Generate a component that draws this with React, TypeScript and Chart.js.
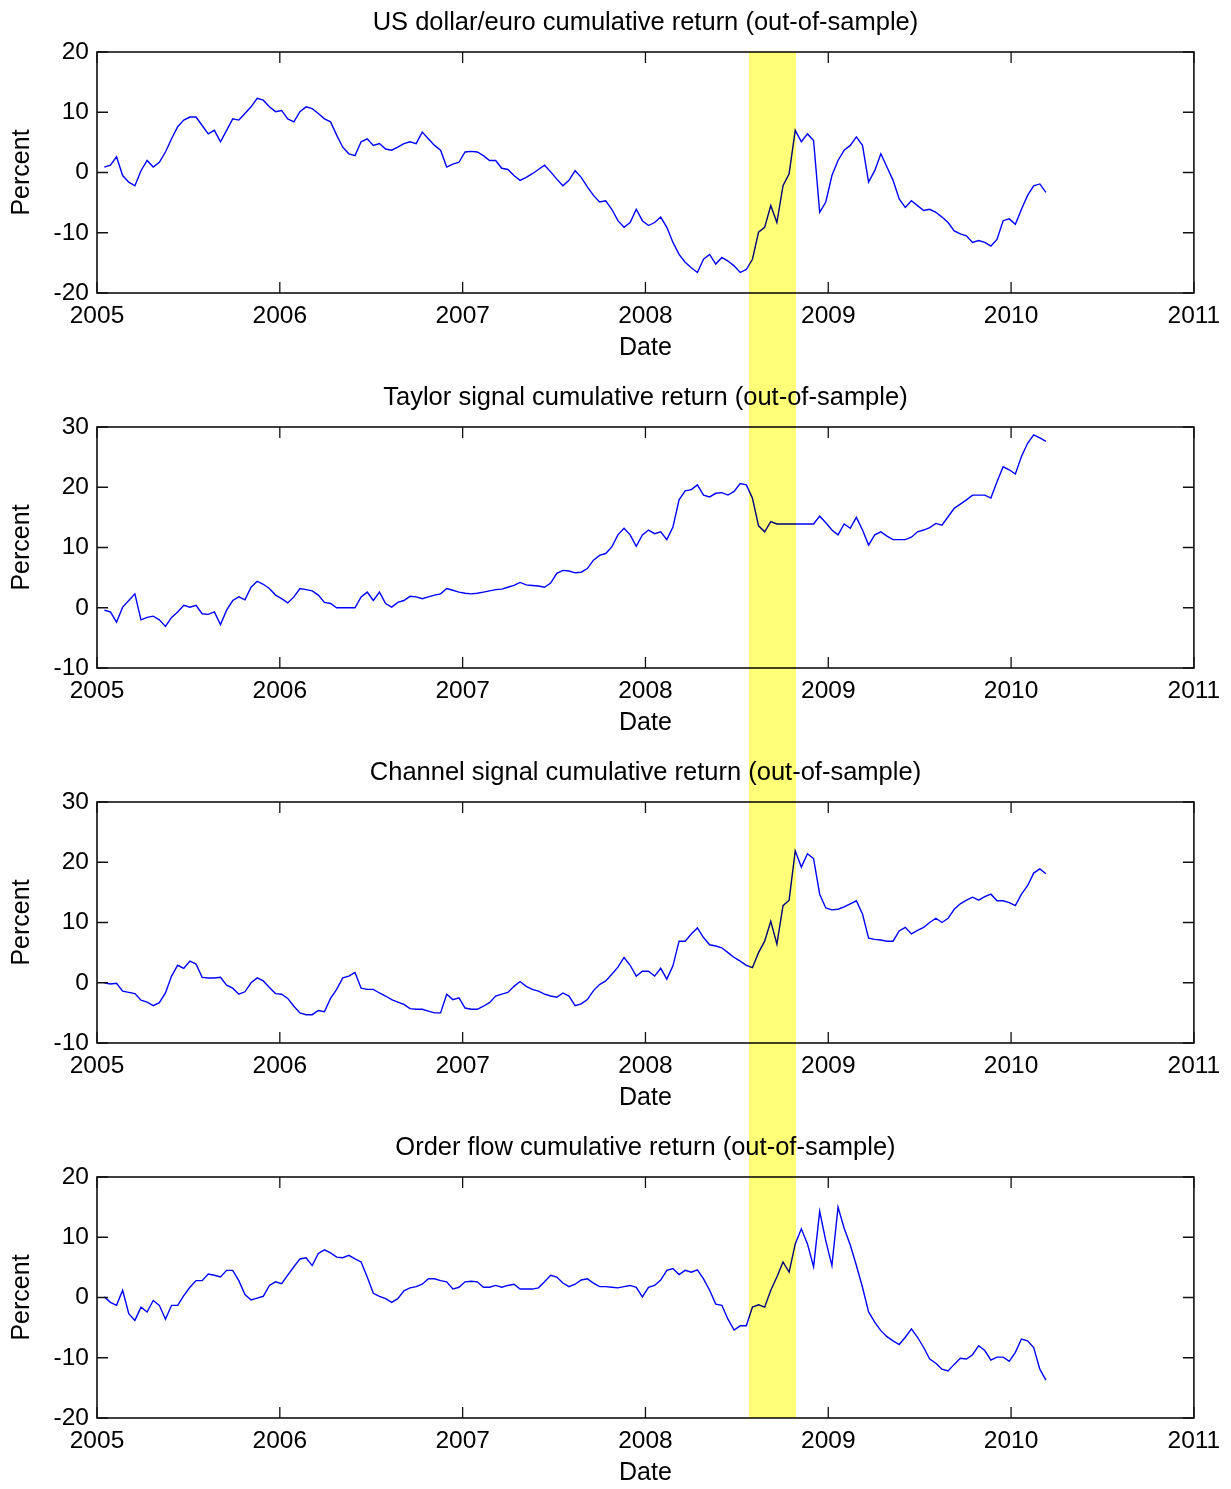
import React, { useEffect, useRef } from "react";
import { Chart, registerables } from "chart.js";

Chart.register(...registerables);

// ---------------- data ----------------
// Observations are sampled every ~12 days starting early January 2005.
const SAMPLE_START = 2005.04;
const SAMPLE_STEP = 0.033445;

const X_TICKS = [2005, 2006, 2007, 2008, 2009, 2010, 2011];
const SHADE_START = 2008.568;
const SHADE_END = 2008.825;

const TITLES = [
  "US dollar/euro cumulative return (out-of-sample)",
  "Taylor signal cumulative return (out-of-sample)",
  "Channel signal cumulative return (out-of-sample)",
  "Order flow cumulative return (out-of-sample)",
];
const X_LABEL = "Date";
const Y_LABEL = "Percent";

const Y_TICKS_USD = [-20, -10, 0, 10, 20];
const Y_TICKS_TAYLOR = [-10, 0, 10, 20, 30];
const Y_TICKS_CHANNEL = [-10, 0, 10, 20, 30];
const Y_TICKS_ORDER = [-20, -10, 0, 10, 20];

const USD_EUR = [
  0.9, 1.2, 2.6, -0.5, -1.6, -2.2, 0.3, 2.0, 0.9, 1.7,
  3.4, 5.6, 7.6, 8.7, 9.2, 9.2, 7.8, 6.4, 7.0, 5.1,
  7.0, 8.9, 8.7, 9.8, 10.9, 12.3, 12.0, 10.9, 10.1, 10.3,
  8.9, 8.4, 10.1, 10.9, 10.6, 9.8, 8.9, 8.4, 6.2, 4.2,
  3.1, 2.8, 5.1, 5.6, 4.5, 4.8, 3.9, 3.7, 4.2, 4.8,
  5.1, 4.8, 6.7, 5.6, 4.5, 3.7, 0.9, 1.4, 1.7, 3.4,
  3.5, 3.4, 2.8, 2.0, 2.0, 0.7, 0.5, -0.5, -1.3, -0.8,
  -0.2, 0.5, 1.2, 0.1, -1.1, -2.2, -1.3, 0.3, -0.8, -2.4,
  -3.8, -4.9, -4.7, -6.1, -8.0, -9.1, -8.3, -6.1, -8.0, -8.8,
  -8.3, -7.4, -9.1, -11.6, -13.6, -14.9, -15.8, -16.6, -14.4, -13.6,
  -15.2, -14.1, -14.7, -15.5, -16.6, -16.1, -14.4, -9.9, -9.1, -5.5,
  -8.3, -2.2, -0.2, 7.0, 5.1, 6.4, 5.3, -6.6, -4.9, -0.5,
  2.0, 3.7, 4.5, 5.9, 4.5, -1.6, 0.3, 3.1, 0.9, -1.3,
  -4.4, -5.8, -4.7, -5.5, -6.3, -6.1, -6.6, -7.4, -8.3, -9.7,
  -10.2, -10.5, -11.6, -11.3, -11.6, -12.2, -11.1, -8.0, -7.7, -8.6,
  -6.1, -3.8, -2.2, -1.9, -3.3,
];

const TAYLOR = [
  -0.4, -0.7, -2.4, 0.1, 1.2, 2.3, -2.0, -1.6, -1.4, -2.0,
  -3.1, -1.6, -0.7, 0.4, 0.1, 0.4, -1.0, -1.1, -0.7, -2.8,
  -0.4, 1.2, 1.8, 1.3, 3.4, 4.4, 3.9, 3.2, 2.1, 1.5,
  0.8, 1.8, 3.2, 3.0, 2.8, 2.1, 0.9, 0.7, 0.0, 0.0,
  0.0, 0.0, 1.8, 2.6, 1.2, 2.6, 0.7, 0.1, 0.9, 1.2,
  1.9, 1.8, 1.5, 1.8, 2.1, 2.3, 3.2, 2.9, 2.6, 2.4,
  2.3, 2.4, 2.6, 2.8, 3.0, 3.1, 3.4, 3.7, 4.2, 3.8,
  3.7, 3.6, 3.4, 4.1, 5.7, 6.2, 6.1, 5.8, 5.9, 6.5,
  7.9, 8.7, 9.0, 10.1, 12.1, 13.2, 12.1, 10.2, 12.1, 12.9,
  12.3, 12.6, 11.3, 13.4, 17.9, 19.4, 19.6, 20.4, 18.7, 18.4,
  19.0, 19.1, 18.7, 19.3, 20.6, 20.4, 18.2, 13.6, 12.6, 14.3,
  13.9, 13.9, 13.9, 13.9, 13.9, 13.9, 13.9, 15.2, 14.1, 12.9,
  12.1, 13.9, 13.2, 15.0, 12.9, 10.4, 12.1, 12.6, 11.9, 11.3,
  11.3, 11.3, 11.7, 12.6, 12.9, 13.3, 14.0, 13.7, 15.1, 16.5,
  17.2, 17.9, 18.7, 18.7, 18.7, 18.2, 20.9, 23.4, 22.9, 22.2,
  25.1, 27.3, 28.7, 28.2, 27.6,
];

const CHANNEL = [
  0.0, -0.2, -0.1, -1.4, -1.6, -1.8, -2.9, -3.2, -3.8, -3.3,
  -1.7, 1.1, 2.9, 2.4, 3.6, 3.1, 0.9, 0.8, 0.8, 0.9,
  -0.4, -0.9, -1.9, -1.5, 0.0, 0.8, 0.3, -0.8, -1.8, -1.9,
  -2.6, -3.9, -5.0, -5.3, -5.3, -4.6, -4.8, -2.6, -1.1, 0.8,
  1.1, 1.7, -0.9, -1.1, -1.1, -1.7, -2.2, -2.8, -3.2, -3.6,
  -4.3, -4.4, -4.4, -4.7, -5.0, -5.0, -1.9, -2.8, -2.5, -4.2,
  -4.4, -4.4, -3.9, -3.3, -2.2, -1.9, -1.6, -0.6, 0.2, -0.6,
  -1.1, -1.4, -1.9, -2.2, -2.4, -1.7, -2.2, -3.8, -3.5, -2.8,
  -1.3, -0.3, 0.3, 1.4, 2.6, 4.2, 2.9, 1.1, 1.9, 1.9,
  1.1, 2.4, 0.6, 2.8, 6.9, 6.9, 8.1, 9.1, 7.5, 6.3,
  6.1, 5.8, 5.0, 4.2, 3.6, 2.9, 2.5, 5.0, 6.9, 10.2,
  6.4, 12.8, 13.7, 21.9, 19.2, 21.4, 20.6, 14.7, 12.4, 12.1,
  12.2, 12.6, 13.1, 13.6, 11.4, 7.4, 7.2, 7.1, 6.9, 6.9,
  8.6, 9.2, 8.1, 8.7, 9.2, 10.0, 10.7, 10.0, 10.7, 12.2,
  13.1, 13.7, 14.2, 13.7, 14.3, 14.7, 13.6, 13.6, 13.3, 12.8,
  14.7, 16.1, 18.2, 18.9, 18.1,
];

const ORDER_FLOW = [
  0.1, -0.8, -1.3, 1.2, -2.7, -3.8, -1.6, -2.4, -0.5, -1.3,
  -3.6, -1.3, -1.3, 0.3, 1.7, 2.8, 2.8, 3.9, 3.7, 3.4,
  4.5, 4.5, 2.8, 0.5, -0.4, -0.1, 0.2, 2.0, 2.6, 2.3,
  3.7, 5.1, 6.4, 6.6, 5.3, 7.3, 7.9, 7.4, 6.7, 6.6,
  7.0, 6.4, 5.9, 3.4, 0.7, 0.2, -0.2, -0.8, -0.2, 1.1,
  1.6, 1.8, 2.2, 3.1, 3.1, 2.8, 2.6, 1.4, 1.7, 2.6,
  2.7, 2.6, 1.7, 1.7, 2.0, 1.7, 2.0, 2.2, 1.4, 1.4,
  1.4, 1.6, 2.6, 3.7, 3.4, 2.4, 1.8, 2.2, 2.9, 3.1,
  2.4, 1.8, 1.8, 1.7, 1.6, 1.8, 2.0, 1.7, 0.1, 1.7,
  2.0, 2.9, 4.5, 4.8, 3.8, 4.5, 4.2, 4.6, 3.1, 1.2,
  -1.1, -1.3, -3.6, -5.4, -4.7, -4.7, -1.6, -1.2, -1.6, 1.2,
  3.4, 5.9, 4.2, 8.9, 11.4, 8.9, 5.1, 14.3, 9.4, 5.3,
  15.0, 11.5, 8.7, 5.3, 1.7, -2.4, -4.1, -5.5, -6.5, -7.2,
  -7.8, -6.6, -5.2, -6.6, -8.3, -10.2, -10.9, -11.9, -12.2, -11.1,
  -10.1, -10.2, -9.5, -8.0, -8.8, -10.4, -9.9, -9.9, -10.6, -9.1,
  -6.9, -7.2, -8.3, -11.9, -13.7,
];

// ---------------- layout / style ----------------
const W = 1231;
const H = 375;
const PAGE_H = 1489;
const PLOT_LEFT = 97;
const PLOT_RIGHT = 1195;
const PLOT_TOP = 52;
const PLOT_BOTTOM = 293;
const TICK_LEN = 11;
const LINE_BLUE = "#0000ff";

const PANELS = [
  { title: TITLES[0], values: USD_EUR, yTicks: Y_TICKS_USD },
  { title: TITLES[1], values: TAYLOR, yTicks: Y_TICKS_TAYLOR },
  { title: TITLES[2], values: CHANNEL, yTicks: Y_TICKS_CHANNEL },
  { title: TITLES[3], values: ORDER_FLOW, yTicks: Y_TICKS_ORDER },
];

function fontAvailable(name: string): boolean {
  const ctx = document.createElement("canvas").getContext("2d");
  if (!ctx) return false;
  const sample = "abcdefghijklmnopqrstuvwxyz0123456789";
  return ["monospace", "serif"].some((fb) => {
    ctx.font = `40px ${fb}`;
    const w0 = ctx.measureText(sample).width;
    ctx.font = `40px "${name}", ${fb}`;
    const w1 = ctx.measureText(sample).width;
    return Math.abs(w0 - w1) > 0.5;
  });
}

const boxPlugin = {
  id: "matlabBox",
  afterDatasetsDraw(chart: any) {
    const { ctx, chartArea: a, scales } = chart;
    const xs = scales.x;
    const ys = scales.y;
    ctx.save();
    ctx.strokeStyle = "#111";
    ctx.lineWidth = 1.3;
    ctx.beginPath();
    for (const v of X_TICKS) {
      const px = xs.getPixelForValue(v);
      ctx.moveTo(px, a.bottom);
      ctx.lineTo(px, a.bottom - TICK_LEN);
      ctx.moveTo(px, a.top);
      ctx.lineTo(px, a.top + TICK_LEN);
    }
    for (const t of ys.ticks) {
      const py = ys.getPixelForValue(t.value);
      ctx.moveTo(a.left, py);
      ctx.lineTo(a.left + TICK_LEN, py);
      ctx.moveTo(a.right, py);
      ctx.lineTo(a.right - TICK_LEN, py);
    }
    ctx.stroke();
    ctx.lineWidth = 1.6;
    ctx.strokeRect(a.left, a.top, a.right - a.left, a.bottom - a.top);
    ctx.restore();
  },
};

export default function App() {
  const canvasRefs = useRef<(HTMLCanvasElement | null)[]>([]);
  const shadeRef = useRef<HTMLDivElement | null>(null);

  useEffect(() => {
    document.body.style.margin = "0";
    const narrow = fontAvailable("Liberation Sans Narrow");
    const sans = "'Liberation Sans', Arial, Helvetica, sans-serif";
    const tickFont = narrow
      ? { family: "'Liberation Sans Narrow', 'Liberation Sans', sans-serif", size: 29 }
      : { family: sans, size: 24.5 };
    const percentFont = narrow
      ? { family: "'Liberation Sans Narrow', 'Liberation Sans', sans-serif", size: 30 }
      : { family: sans, size: 25 };
    const titleSize = 25.5;
    const dates = USD_EUR.map((_, i) => SAMPLE_START + i * SAMPLE_STEP);

    const charts: Chart[] = [];
    PANELS.forEach((p, idx) => {
      const canvas = canvasRefs.current[idx];
      if (!canvas) return;
      const yMin = p.yTicks[0];
      const yMax = p.yTicks[p.yTicks.length - 1];
      const chart = new Chart(canvas, {
        type: "line",
        data: {
          datasets: [
            {
              data: p.values.map((v, i) => ({ x: dates[i], y: v })),
              borderColor: LINE_BLUE,
              borderWidth: 1.4,
              pointRadius: 0,
              fill: false,
              tension: 0,
            },
          ],
        },
        options: {
          animation: false,
          responsive: false,
          maintainAspectRatio: false,
          events: [],
          layout: { padding: { top: 0, left: 0, right: W - PLOT_RIGHT, bottom: 0 } },
          plugins: {
            legend: { display: false },
            tooltip: { enabled: false },
            title: {
              display: true,
              text: p.title,
              fullSize: false,
              color: "#000",
              font: { family: sans, size: titleSize, weight: "normal", lineHeight: 1 },
              padding: { top: 23 - titleSize / 2, bottom: PLOT_TOP - (23 + titleSize / 2) },
            },
          },
          scales: {
            x: {
              type: "linear",
              min: X_TICKS[0],
              max: X_TICKS[X_TICKS.length - 1],
              grid: { display: false, drawTicks: false },
              border: { display: false },
              afterBuildTicks: (s: any) => {
                s.ticks = X_TICKS.map((v) => ({ value: v }));
              },
              afterFit: (s: any) => {
                s.height = H - PLOT_BOTTOM;
              },
              ticks: {
                color: "#000",
                font: { ...tickFont, lineHeight: 1 },
                padding: 316 - PLOT_BOTTOM - tickFont.size / 2,
                maxRotation: 0,
                autoSkip: false,
                callback: (v: any) => String(v),
              },
              title: {
                display: true,
                text: X_LABEL,
                color: "#000",
                font: { family: sans, size: 25, lineHeight: 1 },
                padding: { top: 0, bottom: H - 348 - 12.5 },
              },
            },
            y: {
              type: "linear",
              min: yMin,
              max: yMax,
              grid: { display: false, drawTicks: false },
              border: { display: false },
              afterBuildTicks: (s: any) => {
                s.ticks = p.yTicks.map((v) => ({ value: v }));
              },
              afterFit: (s: any) => {
                s.width = PLOT_LEFT;
              },
              ticks: {
                color: "#000",
                font: { ...tickFont, lineHeight: 1 },
                padding: 8,
                autoSkip: false,
                callback: (v: any) => String(v),
              },
              title: {
                display: true,
                text: Y_LABEL,
                color: "#000",
                font: { ...percentFont, lineHeight: 1 },
                padding: { top: 22 - percentFont.size / 2, bottom: 0 },
              },
            },
          },
        },
        plugins: [boxPlugin],
      } as any);
      charts.push(chart);
    });

    if (charts.length === 4 && shadeRef.current) {
      const xs: any = charts[0].scales.x;
      const l = xs.getPixelForValue(SHADE_START);
      const r = xs.getPixelForValue(SHADE_END);
      const top = charts[0].chartArea.top;
      const bottom = 3 * H + charts[3].chartArea.bottom;
      const st = shadeRef.current.style;
      st.left = `${l}px`;
      st.width = `${r - l}px`;
      st.top = `${top}px`;
      st.height = `${bottom - top}px`;
      st.display = "block";
    }

    return () => {
      charts.forEach((c) => c.destroy());
    };
  }, []);

  return (
    <div
      style={{
        position: "absolute",
        left: 0,
        top: 0,
        width: W,
        height: PAGE_H,
        overflow: "hidden",
        background: "#fff",
      }}
    >
      {PANELS.map((p, i) => (
        <canvas
          key={p.title}
          ref={(el) => {
            canvasRefs.current[i] = el;
          }}
          width={W}
          height={H}
          style={{ position: "absolute", left: 0, top: i * H, width: W, height: H, display: "block" }}
        />
      ))}
      <div
        ref={shadeRef}
        style={{
          position: "absolute",
          display: "none",
          background: "rgb(255,255,120)",
          mixBlendMode: "multiply",
          pointerEvents: "none",
        }}
      />
    </div>
  );
}
